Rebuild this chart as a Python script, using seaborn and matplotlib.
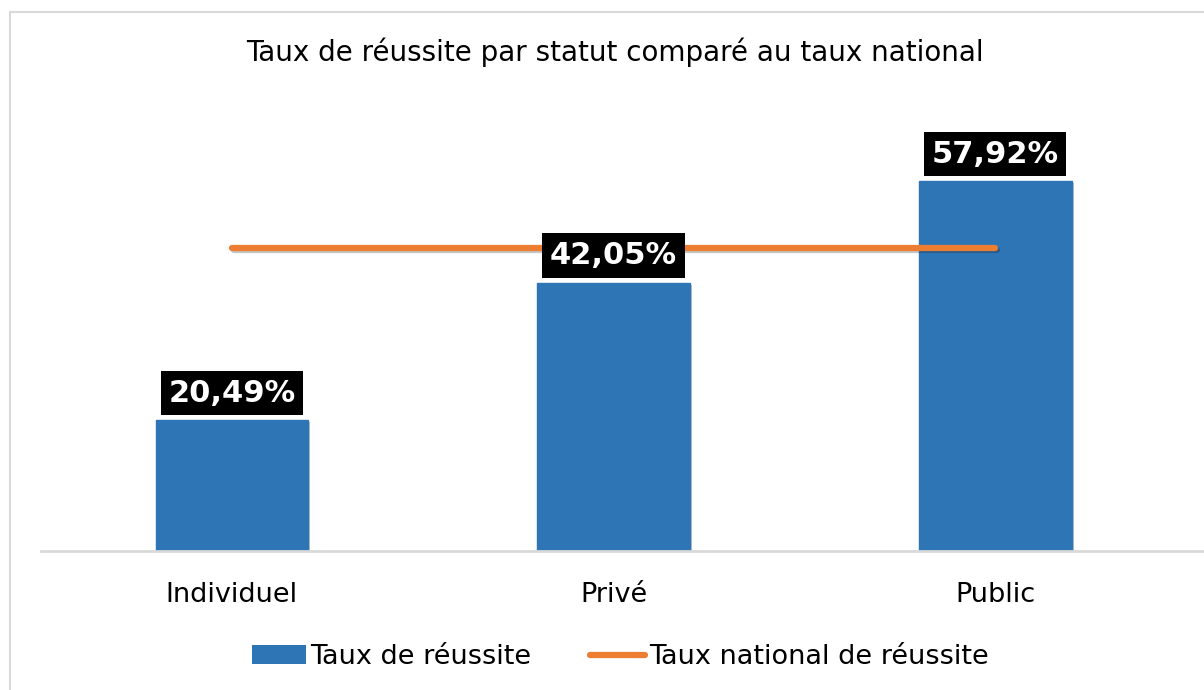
import matplotlib
matplotlib.use("Agg")

import matplotlib.patheffects as pe
import matplotlib.pyplot as plt
import seaborn as sns
from matplotlib.lines import Line2D
from matplotlib.patches import Patch, Rectangle

statuts = ["Individuel", "Privé", "Public"]
taux_reussite = [20.49, 42.05, 57.92]
taux_national = [47.5, 47.5, 47.5]

BLUE = "#2E75B6"
ORANGE = "#ED7D31"


def fmt_pct(v: float) -> str:
    return f"{v:.2f}".replace(".", ",") + "%"


def main() -> None:
    sns.set_theme(style="white")
    plt.rcParams["font.family"] = ["DejaVu Sans"]
    plt.rcParams["text.color"] = "black"
    plt.rcParams["xtick.color"] = "black"

    fig = plt.figure(figsize=(12.04, 6.9), dpi=100)
    fig.patches.append(
        Rectangle((10 / 1204, -0.1), 1.2, 1.1 - 12 / 690, transform=fig.transFigure,
                  fill=False, edgecolor="#D9D9D9", linewidth=1.5)
    )
    ax = fig.add_axes([41 / 1204, 139 / 690, (1204 - 41) / 1204, 415 / 690])

    sns.barplot(x=statuts, y=taux_reussite, color=BLUE, width=0.4, saturation=1,
                edgecolor=BLUE, ax=ax)
    for bar in ax.patches:
        bar.set_path_effects([pe.SimplePatchShadow(offset=(1.5, -1.5), alpha=0.25),
                              pe.Normal()])

    sns.lineplot(x=statuts, y=taux_national, color=ORANGE, linewidth=4.5, ax=ax,
                 solid_capstyle="round")
    ax.lines[-1].set_path_effects([pe.SimpleLineShadow(offset=(1.5, -1.5), alpha=0.25),
                                   pe.Normal()])

    ax.bar_label(ax.containers[0], labels=[fmt_pct(v) for v in taux_reussite],
                 padding=9, color="white", fontsize=22, fontweight="bold",
                 bbox=dict(facecolor="black", edgecolor="none", pad=5.5))

    ax.set_xlim(-0.5, 2.547)
    ax.set_ylim(0, 65)
    ax.set_yticks([])
    ax.set_xlabel("")
    ax.set_ylabel("")
    ax.tick_params(axis="x", length=0, pad=22, labelsize=19.5)
    for side in ("top", "left", "right"):
        ax.spines[side].set_visible(False)
    ax.spines["bottom"].set_color("#D9D9D9")
    ax.spines["bottom"].set_linewidth(2)

    fig.text(615 / 1204, 1 - 52 / 690,
             "Taux de réussite par statut comparé au taux national",
             ha="center", va="center", fontsize=20)

    handles = [Patch(facecolor=BLUE, edgecolor="none"),
               Line2D([], [], color=ORANGE, linewidth=4.5, solid_capstyle="round")]
    fig.legend(handles, ["Taux de réussite", "Taux national de réussite"],
               loc="center", bbox_to_anchor=(620 / 1204, 1 - 657 / 690), ncol=2,
               frameon=False, fontsize=19.5, handlelength=2.0, handletextpad=0.15,
               columnspacing=2.2)

    fig.savefig("out.png", dpi=100)
    plt.close(fig)


if __name__ == "__main__":
    main()
